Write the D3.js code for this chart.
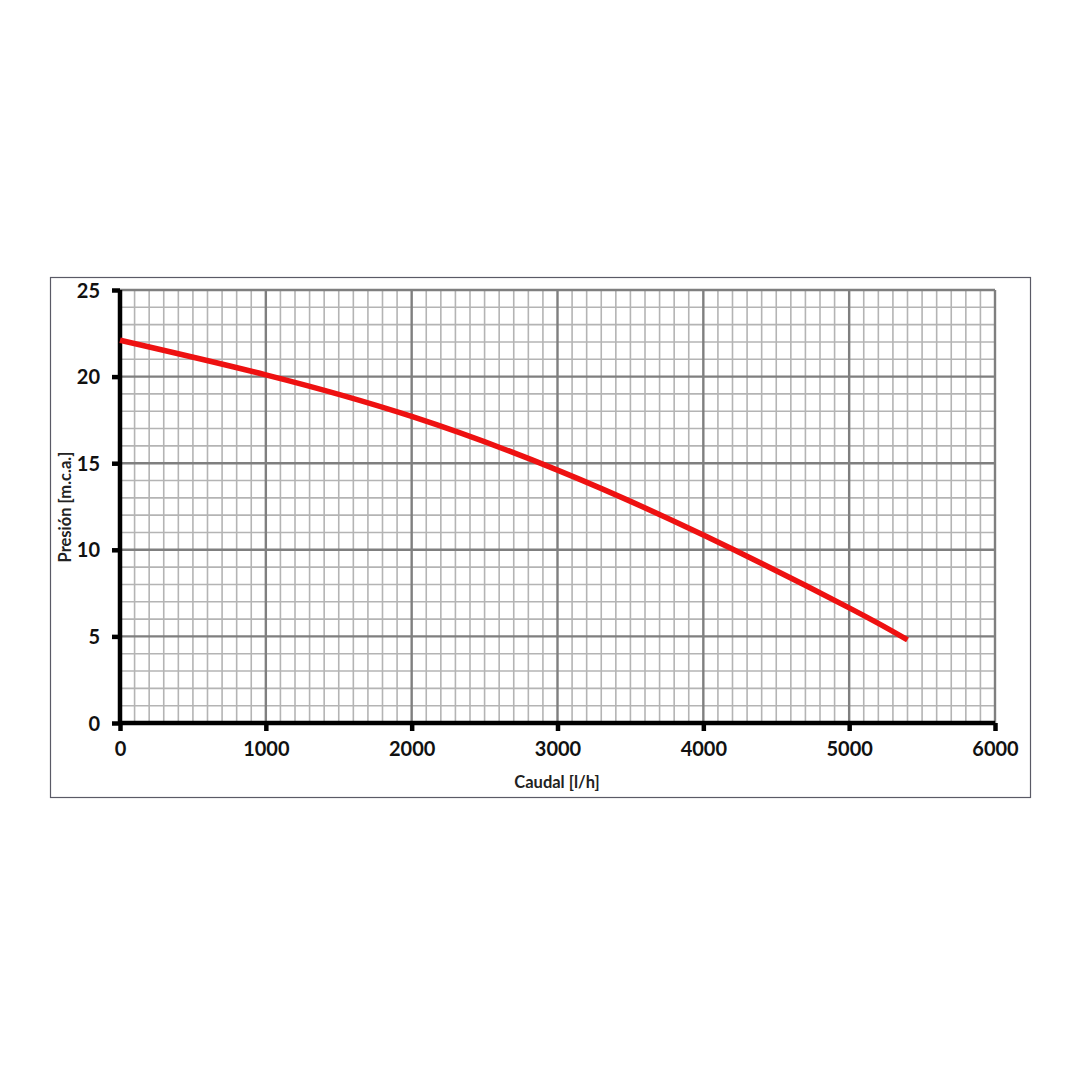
<!DOCTYPE html>
<html><head><meta charset="utf-8">
<script src="https://cdn.jsdelivr.net/npm/d3@7"></script>
<style>html,body{margin:0;padding:0;background:#fff;}</style>
</head><body>
<svg id="chart" width="1080" height="1080"></svg>
<script>
const flow = [0, 1000, 2000, 3000, 4000, 5000, 5400];
const pressure = [22.1, 20.1, 17.7, 14.6, 10.85, 6.65, 4.8];
const xTicks = [0, 1000, 2000, 3000, 4000, 5000, 6000];
const yTicks = [0, 5, 10, 15, 20, 25];
const xTitle = "Caudal [l/h]";
const yTitle = "Presión [m.c.a.]";

const svg = d3.select("#chart");
const x = d3.scaleLinear().domain([0, 6000]).range([120, 995]);
const y = d3.scaleLinear().domain([0, 25]).range([723, 290]);

// frame
svg.append("rect").attr("x", 50.5).attr("y", 277.5).attr("width", 980).attr("height", 520)
  .attr("fill", "#fff").attr("stroke", "#5a5a66").attr("stroke-width", 1.2);

const g = svg.append("g");
// minor grid
const minorX = d3.range(100, 6001, 100).filter(v => v % 1000 !== 0);
const minorY = d3.range(1, 26, 1).filter(v => v % 5 !== 0);
g.selectAll(".mx").data(minorX).join("line")
  .attr("x1", d => x(d)).attr("x2", d => x(d)).attr("y1", y(25)).attr("y2", y(0))
  .attr("stroke", "#b4b4b4").attr("stroke-width", 1.6);
g.selectAll(".my").data(minorY).join("line")
  .attr("x1", x(0)).attr("x2", x(6000)).attr("y1", d => y(d)).attr("y2", d => y(d))
  .attr("stroke", "#b4b4b4").attr("stroke-width", 1.6);
// major grid
g.selectAll(".Mx").data(xTicks.filter(v => v > 0)).join("line")
  .attr("x1", d => x(d)).attr("x2", d => x(d)).attr("y1", y(25)).attr("y2", y(0))
  .attr("stroke", "#7f7f7f").attr("stroke-width", 2.4);
g.selectAll(".My").data(yTicks.filter(v => v > 0)).join("line")
  .attr("x1", x(0)).attr("x2", x(6000)).attr("y1", d => y(d)).attr("y2", d => y(d))
  .attr("stroke", "#7f7f7f").attr("stroke-width", 2.4);

// axes
const fontFam = "Lato, 'Open Sans', sans-serif";
const xAxis = svg.append("g").attr("transform", `translate(0,${y(0)})`)
  .call(d3.axisBottom(x).tickValues(xTicks).tickFormat(d3.format("d")).tickSize(8).tickPadding(11));
const yAxis = svg.append("g").attr("transform", `translate(${x(0)},0)`)
  .call(d3.axisLeft(y).tickValues(yTicks).tickFormat(d3.format("d")).tickSize(8).tickPadding(12));
[xAxis, yAxis].forEach(a => {
  a.select(".domain").attr("stroke", "#000").attr("stroke-width", 4.5);
  a.selectAll(".tick line").attr("stroke", "#000").attr("stroke-width", 4.5);
  a.selectAll(".tick text").attr("fill", "#111").attr("font-family", fontFam)
    .attr("font-weight", "bold").attr("font-size", 20);
});
xAxis.select(".domain").attr("d", `M${x(0)},0H${x(6000)}`);
yAxis.select(".domain").attr("d", `M0,${y(25)}V${y(0)}`);
yAxis.selectAll(".tick text").attr("dy", "0.35em");

// curve
const pts = flow.map((f, i) => [f, pressure[i]]);
svg.append("path").datum(pts)
  .attr("fill", "none").attr("stroke", "#ee1111").attr("stroke-width", 5.5)
  .attr("d", d3.line().x(d => x(d[0])).y(d => y(d[1])).curve(d3.curveNatural));

// titles
svg.append("text").attr("x", 557).attr("y", 788).attr("text-anchor", "middle")
  .attr("font-family", fontFam).attr("font-weight", "bold").attr("font-size", 16.5)
  .attr("fill", "#222").text(xTitle);
svg.append("text").attr("transform", "translate(71,507) rotate(-90)").attr("text-anchor", "middle")
  .attr("font-family", fontFam).attr("font-weight", "bold").attr("font-size", 16.5)
  .attr("fill", "#222").text(yTitle);
</script>
</body></html>
